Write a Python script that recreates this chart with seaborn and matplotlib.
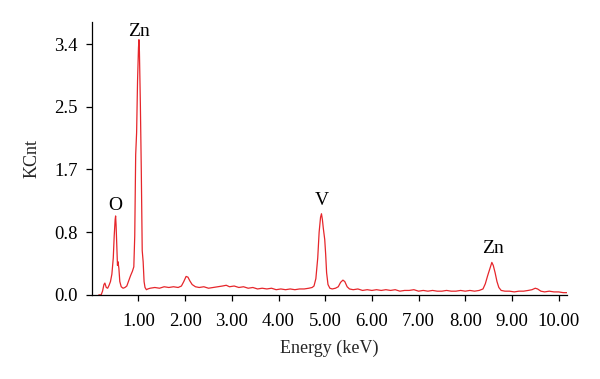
import matplotlib
matplotlib.use("Agg")
import matplotlib.pyplot as plt
import numpy as np
import pandas as pd
import seaborn as sb

# spectrum (keV, KCnt)
energy = [
    0.15, 0.20, 0.23, 0.26, 0.28, 0.31, 0.34, 0.37, 0.40, 0.43,
    0.46, 0.48, 0.50, 0.51, 0.52, 0.54, 0.55, 0.56, 0.58, 0.60,
    0.63, 0.67, 0.71, 0.75, 0.79, 0.83, 0.87, 0.90, 0.92, 0.94,
    0.96, 0.98, 1.00, 1.01, 1.02, 1.04, 1.06, 1.08, 1.10, 1.12,
    1.14, 1.17, 1.20,
    1.25, 1.35, 1.45, 1.55, 1.65, 1.75, 1.85, 1.92, 1.97, 2.02,
    2.06, 2.10, 2.15, 2.22, 2.30, 2.40, 2.50, 2.60, 2.70, 2.80,
    2.88, 2.95, 3.05, 3.15, 3.25, 3.35, 3.45, 3.55, 3.65, 3.75,
    3.85, 3.95, 4.05, 4.15, 4.25, 4.35, 4.45, 4.55, 4.65, 4.72,
    4.76, 4.80, 4.84, 4.87, 4.90, 4.92, 4.94, 4.96, 4.99, 5.01,
    5.03, 5.06, 5.10, 5.15, 5.22, 5.28, 5.33, 5.38, 5.42, 5.47,
    5.52, 5.60,
    5.70, 5.80, 5.90, 6.00, 6.10, 6.20, 6.30, 6.40, 6.50, 6.60,
    6.70, 6.80, 6.90, 7.00, 7.10, 7.20, 7.30, 7.40, 7.50, 7.60,
    7.70, 7.80, 7.90, 8.00, 8.10, 8.20, 8.30,
    8.38, 8.43, 8.48, 8.53, 8.57, 8.60, 8.64, 8.68, 8.72, 8.77,
    8.85, 8.95, 9.05, 9.15, 9.25, 9.35, 9.43, 9.50, 9.55, 9.62,
    9.70, 9.80, 9.90, 10.00, 10.10, 10.18,
]
kcnt = [
    0.00, 0.00, 0.05, 0.14, 0.16, 0.10, 0.09, 0.13, 0.18, 0.28,
    0.50, 0.80, 1.02, 1.07, 0.95, 0.60, 0.40, 0.45, 0.36, 0.18,
    0.11, 0.09, 0.10, 0.12, 0.19, 0.26, 0.32, 0.38, 0.80, 1.90,
    2.20, 2.90, 3.35, 3.46, 3.30, 2.60, 1.70, 0.60, 0.45, 0.18,
    0.10, 0.07, 0.08,
    0.09, 0.10, 0.09, 0.11, 0.10, 0.11, 0.10, 0.12, 0.18, 0.25,
    0.24, 0.19, 0.14, 0.11, 0.10, 0.11, 0.09, 0.10, 0.11, 0.12,
    0.13, 0.11, 0.12, 0.10, 0.11, 0.09, 0.10, 0.08, 0.09, 0.08,
    0.09, 0.07, 0.08, 0.07, 0.08, 0.07, 0.08, 0.08, 0.09, 0.10,
    0.12, 0.22, 0.50, 0.85, 1.05, 1.10, 1.02, 0.90, 0.75, 0.55,
    0.30, 0.14, 0.09, 0.08, 0.09, 0.11, 0.17, 0.20, 0.18, 0.11,
    0.08, 0.07,
    0.08, 0.06, 0.07, 0.06, 0.07, 0.06, 0.07, 0.06, 0.07, 0.05,
    0.06, 0.06, 0.07, 0.05, 0.06, 0.05, 0.06, 0.05, 0.05, 0.06,
    0.05, 0.05, 0.06, 0.05, 0.06, 0.05, 0.06,
    0.08, 0.15, 0.26, 0.36, 0.44, 0.40, 0.30, 0.18, 0.10, 0.06,
    0.05, 0.05, 0.04, 0.05, 0.05, 0.06, 0.07, 0.09, 0.08, 0.05,
    0.04, 0.05, 0.04, 0.04, 0.03, 0.03,
]

# element labels
peak_names = ["O", "Zn", "V", "Zn"]
peak_x = [0.51, 1.01, 4.92, 8.59]
peak_y = [1.10, 3.46, 1.17, 0.51]

x_ticks = [1, 2, 3, 4, 5, 6, 7, 8, 9, 10]
x_labels = ["1.00", "2.00", "3.00", "4.00", "5.00",
            "6.00", "7.00", "8.00", "9.00", "10.00"]
y_ticks = [0.0, 0.85, 1.7, 2.55, 3.4]
y_labels = ["0.0", "0.8", "1.7", "2.5", "3.4"]

sb.set_style("ticks")
plt.rcParams["font.family"] = ["Liberation Serif", "DejaVu Serif"]

df = pd.DataFrame({"Energy": energy, "KCnt": kcnt})

fig, ax = plt.subplots(figsize=(6, 3.79), dpi=100)
fig.subplots_adjust(left=0.153, right=0.945, bottom=0.222, top=0.942)

sb.lineplot(data=df, x="Energy", y="KCnt", ax=ax, color="#e6262b",
            linewidth=0.9, sort=False)

for name, px, py in zip(peak_names, peak_x, peak_y):
    ax.text(px, py, name, ha="center", va="bottom", fontsize=14,
            color="black")

ax.set_xlim(0, 10.18)
ax.set_ylim(0, 3.70)
ax.set_xticks(x_ticks)
ax.set_xticklabels(x_labels)
ax.set_yticks(y_ticks)
ax.set_yticklabels(y_labels)
ax.tick_params(axis="both", labelsize=13.5, length=4, width=0.9,
               direction="out", color="black", labelcolor="black")
ax.tick_params(axis="x", pad=9)
ax.tick_params(axis="y", pad=6)

ax.set_xlabel("Energy (keV)", fontsize=13, labelpad=7)
ax.set_ylabel("KCnt", fontsize=13, labelpad=10)

sb.despine(ax=ax)
for s in ["left", "bottom"]:
    ax.spines[s].set_linewidth(0.9)
    ax.spines[s].set_color("black")

fig.savefig("out.png", dpi=100)
